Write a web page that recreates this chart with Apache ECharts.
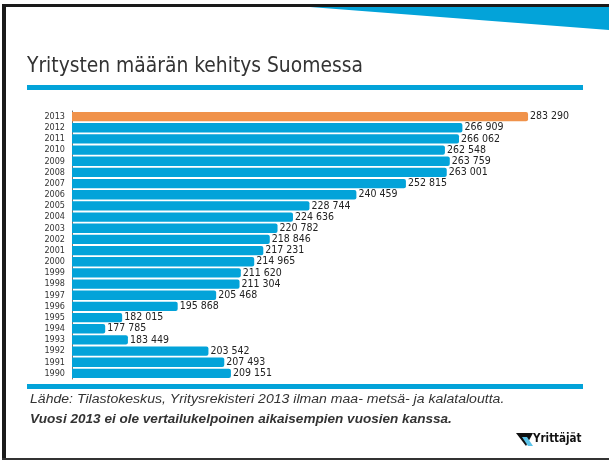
<!DOCTYPE html>
<html>
<head>
<meta charset="utf-8">
<script src="https://cdn.jsdelivr.net/npm/echarts@6/dist/echarts.min.js"></script>
<style>
  html, body { margin: 0; padding: 0; background: #fff; }
  #chart { width: 609px; height: 461px; }
</style>
</head>
<body>
<div id="chart"></div>
<script>
// vuodet ja yritysten määrä
var years = ['1990', '1991', '1992', '1993', '1994', '1995', '1996', '1997', '1998', '1999',
             '2000', '2001', '2002', '2003', '2004', '2005', '2006', '2007', '2008', '2009',
             '2010', '2011', '2012', '2013'];
var companies = [209151, 207493, 203542, 183449, 177785, 182015, 195868, 205468, 211304, 211620,
                 214965, 217231, 218846, 220782, 224636, 228744, 240459, 252815, 263001, 263759,
                 262548, 266062, 266909, 283290];
var highlightYear = '2013';

var blue = '#03a3d9';
var orange = '#f0924a';

function fmt(v) {
    return String(v).replace(/\B(?=(\d{3})+(?!\d))/g, ' ');
}

var myChart = echarts.init(document.getElementById('chart'));

var option = {
    animation: false,
    backgroundColor: '#fff',
    grid: { left: 72, right: 26, top: 111, bottom: 82 },
    xAxis: {
        type: 'value',
        min: 169500,
        max: 297000,
        show: false
    },
    yAxis: {
        type: 'category',
        data: years,
        axisLine: { show: true, lineStyle: { color: '#777', width: 1 } },
        axisTick: { show: false },
        axisLabel: { interval: 0, fontSize: 9, color: '#333', margin: 7, fontFamily: 'DejaVu Sans Condensed' }
    },
    series: [{
        type: 'bar',
        barCategoryGap: '16%',
        data: companies.map(function (v, i) {
            return {
                value: v,
                itemStyle: { color: years[i] === highlightYear ? orange : blue }
            };
        }),
        itemStyle: { borderRadius: [0, 2, 2, 0] },
        label: {
            show: true,
            position: 'right',
            distance: 2,
            fontSize: 10.5,
            color: '#222',
            fontFamily: 'DejaVu Sans Condensed',
            formatter: function (p) { return fmt(p.value); }
        }
    }],
    graphic: [
        // kehys: ylä-, vasen ja alareuna
        { type: 'rect', shape: { x: 2, y: 4, width: 607, height: 3 }, style: { fill: '#1a1a1a' }, z: 10 },
        { type: 'rect', shape: { x: 2, y: 4, width: 4, height: 456 }, style: { fill: '#1a1a1a' }, z: 10 },
        { type: 'rect', shape: { x: 2, y: 458, width: 607, height: 2 }, style: { fill: '#333' }, z: 10 },
        // sininen kolmio ylhäällä
        { type: 'polygon', shape: { points: [[310, 7], [609, 7], [609, 30]] },
          style: { fill: blue }, z: 11 },
        { type: 'text', left: 27, top: 56,
          style: { text: 'Yritysten määrän kehitys Suomessa', fontSize: 20.8,
                   fontFamily: 'DejaVu Sans Condensed', fill: '#333' } },
        { type: 'rect', shape: { x: 27, y: 85, width: 556, height: 5 }, style: { fill: blue } },
        { type: 'rect', shape: { x: 27, y: 384, width: 556, height: 5 }, style: { fill: blue } },
        { type: 'text', x: 30, y: 393, scaleX: 1.125,
          style: { text: 'Lähde: Tilastokeskus, Yritysrekisteri 2013 ilman maa- metsä- ja kalataloutta.',
                   fontSize: 12.5, fontStyle: 'italic', fontFamily: 'Liberation Sans', fill: '#333' } },
        { type: 'text', x: 30, y: 413, scaleX: 1.085,
          style: { text: 'Vuosi 2013 ei ole vertailukelpoinen aikaisempien vuosien kanssa.',
                   fontSize: 12.5, fontStyle: 'italic', fontWeight: 'bold',
                   fontFamily: 'Liberation Sans', fill: '#333' } },
        // logo
        { type: 'polygon', shape: { points: [[516, 433], [533, 433], [526, 446]] },
          style: { fill: '#111' } },
        { type: 'polygon', shape: { points: [[522, 437], [527, 437], [533, 446], [528, 446]] },
          style: { fill: '#5cc4ea' } },
        { type: 'text', left: 533, top: 433,
          style: { text: 'Yrittäjät', fontSize: 11.5, fontWeight: 'bold',
                   fontFamily: 'DejaVu Sans Condensed', fill: '#111' } }
    ]
};

myChart.setOption(option);
</script>
</body>
</html>
